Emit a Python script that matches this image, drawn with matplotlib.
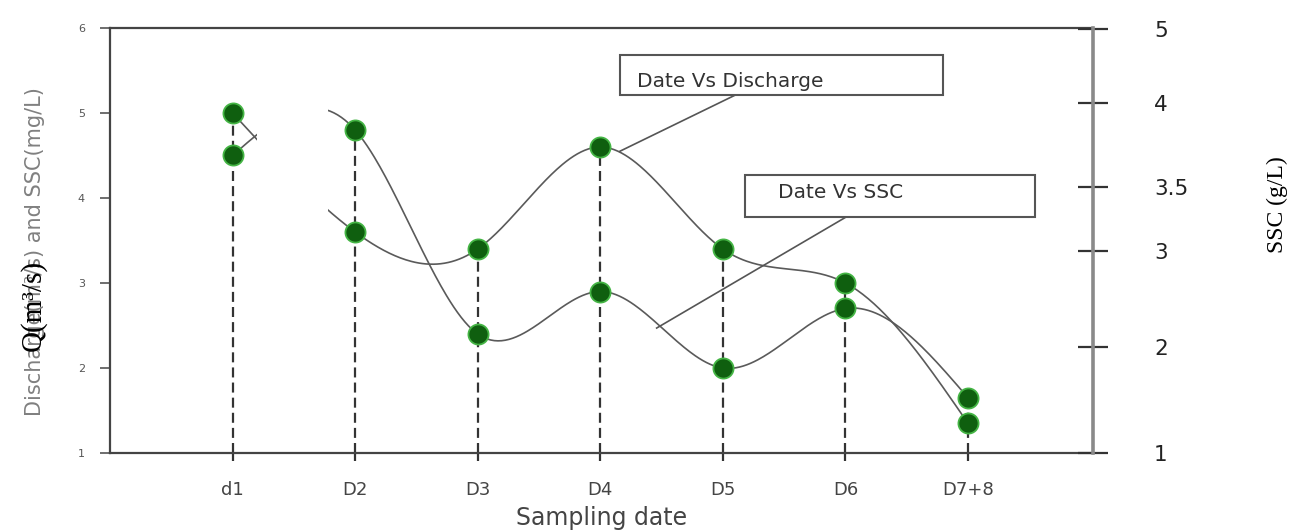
import numpy as np
import matplotlib
matplotlib.use("Agg")
from matplotlib import pyplot as plt
from matplotlib.patches import Rectangle

dates = ["d1", "D2", "D3", "D4", "D5", "D6", "D7+8"]
discharge = [5.0, 3.6, 3.4, 4.6, 3.4, 3.0, 1.35]
ssc = [4.5, 4.8, 2.4, 2.9, 2.0, 2.7, 1.65]
left_ticks = [1, 2, 3, 4, 5, 6]
ssc_tick_labels = ["5", "4", "3.5", "3", "2", "1"]


def spline(x, y, n=400):
    # natural cubic spline through the points
    x = np.asarray(x, float)
    y = np.asarray(y, float)
    k = len(x)
    h = np.diff(x)
    A = np.zeros((k, k))
    r = np.zeros(k)
    A[0, 0] = A[-1, -1] = 1.0
    for i in range(1, k - 1):
        A[i, i - 1] = h[i - 1]
        A[i, i] = 2 * (h[i - 1] + h[i])
        A[i, i + 1] = h[i]
        r[i] = 6 * ((y[i + 1] - y[i]) / h[i] - (y[i] - y[i - 1]) / h[i - 1])
    M = np.linalg.solve(A, r)
    xs = np.linspace(x[0], x[-1], n)
    j = np.clip(np.searchsorted(x, xs) - 1, 0, k - 2)
    a = x[j + 1] - xs
    b = xs - x[j]
    hh = h[j]
    ys = (M[j] * a**3 + M[j + 1] * b**3) / (6 * hh) \
        + (y[j] / hh - M[j] * hh / 6) * a + (y[j + 1] / hh - M[j + 1] * hh / 6) * b
    return xs, ys


W, H = 1292, 532
fig = plt.figure(figsize=(W / 100, H / 100), dpi=100)
ax = fig.add_axes([110 / W, 1 - 453 / H, (1093 - 110) / W, (453 - 28) / H])

x = np.arange(len(dates))
ax.set_xlim(-1.0, 7.02)
ax.set_ylim(1, 6)

# dashed drop lines from the higher point of each date
ax.vlines(x, 1, np.maximum(discharge, ssc), colors="#333333",
          linestyles=(0, (4.5, 2.3)), linewidth=1.6, zorder=1)

for series in (discharge, ssc):
    xs, ys = spline(x, series)
    ax.plot(xs, ys, color="#5a5a5a", lw=1.2, zorder=2)

# blank patch between d1 and D2
ax.add_patch(Rectangle((0.2, 3.6), 0.58, 1.8, facecolor="white",
                       edgecolor="none", zorder=3))

for series in (discharge, ssc):
    ax.plot(x, series, "o", ms=14.5, mfc="#0f5f0f", mec="#45b545", mew=1.3, zorder=4)

# callout boxes
ax.add_patch(Rectangle((3.16, 5.21), 2.64, 0.47, facecolor="white",
                       edgecolor="#555555", lw=1.5, zorder=5, clip_on=False))
ax.text(3.3, 5.37, "Date Vs Discharge", fontsize=14.5, color="#333333",
        va="center", ha="left", zorder=6)
ax.plot([4.1, 3.16], [5.21, 4.55], color="#555555", lw=1.2, zorder=2)

ax.add_patch(Rectangle((4.18, 3.78), 2.37, 0.49, facecolor="white",
                       edgecolor="#555555", lw=1.5, zorder=5, clip_on=False))
ax.text(4.45, 4.07, "Date Vs SSC", fontsize=14.5, color="#333333",
        va="center", ha="left", zorder=6)
ax.plot([5.01, 3.46], [3.78, 2.47], color="#555555", lw=1.2, zorder=2)

for side in ("left", "bottom", "top"):
    ax.spines[side].set_color("#444444")
    ax.spines[side].set_linewidth(1.6)
ax.spines["right"].set_visible(False)

ax.set_yticks(left_ticks)
ax.tick_params(axis="y", length=7, width=1.2, color="#555555",
               labelsize=8, labelcolor="#555555", pad=11)
ax.set_xticks(x, dates)
ax.tick_params(axis="x", length=6, width=1.6, color="#333333",
               labelsize=13, labelcolor="#444444", pad=14)
ax.set_xlabel("Sampling date", fontsize=17, color="#444444", labelpad=5)

ax2 = ax.twinx()
ax2.set_ylim(1, 6)
ax2.set_yticks([5.99, 5.12, 4.13, 3.38, 2.25, 1.0], ssc_tick_labels)
ax2.tick_params(axis="y", direction="inout", length=22, width=1.6,
                color="#333333", labelsize=15.5, labelcolor="#222222", pad=33)
for side in ("left", "bottom", "top"):
    ax2.spines[side].set_visible(False)
ax2.spines["right"].set_color("#8a8a8a")
ax2.spines["right"].set_linewidth(2.6)

fig.text(35 / W, 1 - 252 / H, "Discharge(m³/s) and SSC(mg/L)", rotation=90,
         ha="center", va="center", fontsize=15, color="#808080")
fig.text(33 / W, 1 - 305 / H, "Q(m³/s)", rotation=90, ha="center", va="center",
         fontsize=21, family="Liberation Serif", color="black")
fig.text(1277 / W, 1 - 205 / H, "SSC (g/L)", rotation=90, ha="center",
         va="center", fontsize=17, family="Liberation Serif", color="black")

fig.savefig("out.png", dpi=100)
